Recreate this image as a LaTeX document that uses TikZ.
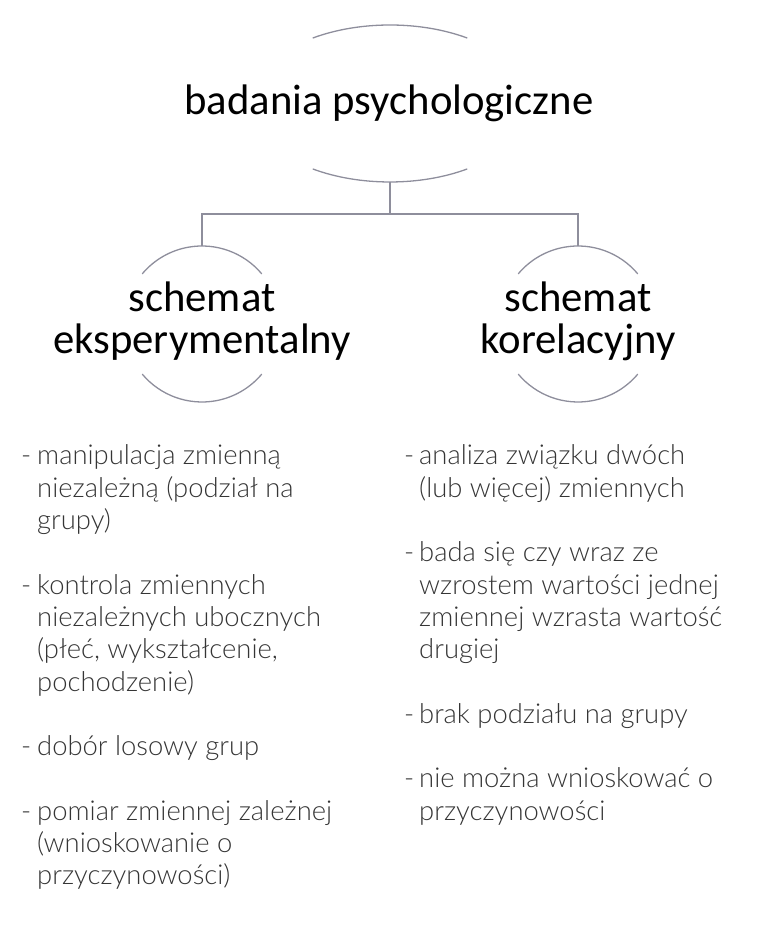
\documentclass[tikz,border=0pt]{standalone}
\usepackage{fontspec}
\setmainfont{Carlito}
\newfontfamily\bodyfont{Lato Light}
\usetikzlibrary{shapes.geometric}
\definecolor{linegray}{HTML}{8E8E9C}
\definecolor{textgray}{HTML}{353535}
\tikzset{
  arcline/.style={draw=linegray, line width=1.3pt},
  conn/.style={draw=linegray, line width=1.3pt},
  titletext/.style={inner sep=0, anchor=base, font=\fontsize{42.7}{50}\selectfont, text=black},
  subtext/.style={inner sep=0, anchor=base, font=\fontsize{42.7}{50}\selectfont, text=black},
  bodytext/.style={inner sep=0, anchor=base west, font=\bodyfont\fontsize{27.4}{32}\selectfont, text=textgray},
  dashmark/.style={inner sep=0, anchor=base west, font=\bodyfont\fontsize{27.4}{32}\selectfont, text=textgray},
  holder/.style={inner sep=0, outer sep=0, draw=none}
}
\begin{document}
\begin{tikzpicture}[x=1pt,y=1pt]
\useasboundingbox (0,0) rectangle (768,936);
% title
\node[holder, ellipse, minimum width=280, minimum height=157] (T) at (390,832.5) {};
\node[titletext] (Tt) at (389,821) {badania psychologiczne};
\draw[arcline] (T.center) ++(56.5:140 and 78.5) arc[start angle=56.5, end angle=123.5, x radius=140, y radius=78.5];
\draw[arcline] (T.center) ++(236.5:140 and 78.5) arc[start angle=236.5, end angle=303.5, x radius=140, y radius=78.5];
% subtitles
\node[holder, circle, minimum size=156] (L) at (202,612) {};
\node[holder, circle, minimum size=156] (R) at (578,612) {};
\draw[arcline] (L.center) ++(40:78) arc[start angle=40, end angle=140, radius=78];
\draw[arcline] (L.center) ++(220:78) arc[start angle=220, end angle=320, radius=78];
\draw[arcline] (R.center) ++(40:78) arc[start angle=40, end angle=140, radius=78];
\draw[arcline] (R.center) ++(220:78) arc[start angle=220, end angle=320, radius=78];
\node[subtext] (L1) at (202,624) {schemat};
\node[subtext] (L2) at (202,582) {eksperymentalny};
\node[subtext] (R1) at (578,624) {schemat};
\node[subtext] (R2) at (578,582) {korelacyjny};
% connectors
\coordinate (J) at (390,722);
\draw[conn] (T.south) -- (J) -| (L.north);
\draw[conn] (J) -| (R.north);
% left column
\node[dashmark] (ld1) at (21,471) {-};
\node[bodytext] (la0) at (37,471) {manipulacja zmienną};
\node[bodytext] (la1) at (37,438.7) {niezależną (podział na};
\node[bodytext] (la2) at (37,406.4) {grupy)};
\node[dashmark] (ld2) at (21,341.8) {-};
\node[bodytext] (lb0) at (37,341.8) {kontrola zmiennych};
\node[bodytext] (lb1) at (37,309.5) {niezależnych ubocznych};
\node[bodytext] (lb2) at (37,277.2) {(płeć, wykształcenie,};
\node[bodytext] (lb3) at (37,244.9) {pochodzenie)};
\node[dashmark] (ld3) at (21,180.3) {-};
\node[bodytext] (lc0) at (37,180.3) {dobór losowy grup};
\node[dashmark] (ld4) at (21,115.7) {-};
\node[bodytext] (ld0) at (37,115.7) {pomiar zmiennej zależnej};
\node[bodytext] (ldl1) at (37,83.4) {(wnioskowanie o};
\node[bodytext] (ldl2) at (37,51.1) {przyczynowości)};
% right column
\node[dashmark] (rd1) at (404,471) {-};
\node[bodytext] (ra0) at (419,471) {analiza związku dwóch};
\node[bodytext] (ra1) at (419,438.7) {(lub więcej) zmiennych};
\node[dashmark] (rd2) at (404,374.1) {-};
\node[bodytext] (rb0) at (419,374.1) {bada się czy wraz ze};
\node[bodytext] (rb1) at (419,341.8) {wzrostem wartości jednej};
\node[bodytext] (rb2) at (419,309.5) {zmiennej wzrasta wartość};
\node[bodytext] (rb3) at (419,277.2) {drugiej};
\node[dashmark] (rd3) at (404,212.6) {-};
\node[bodytext] (rc0) at (419,212.6) {brak podziału na grupy};
\node[dashmark] (rd4) at (404,148) {-};
\node[bodytext] (rdd0) at (419,148) {nie można wnioskować o};
\node[bodytext] (rdd1) at (419,115.7) {przyczynowości};
\end{tikzpicture}
\end{document}
